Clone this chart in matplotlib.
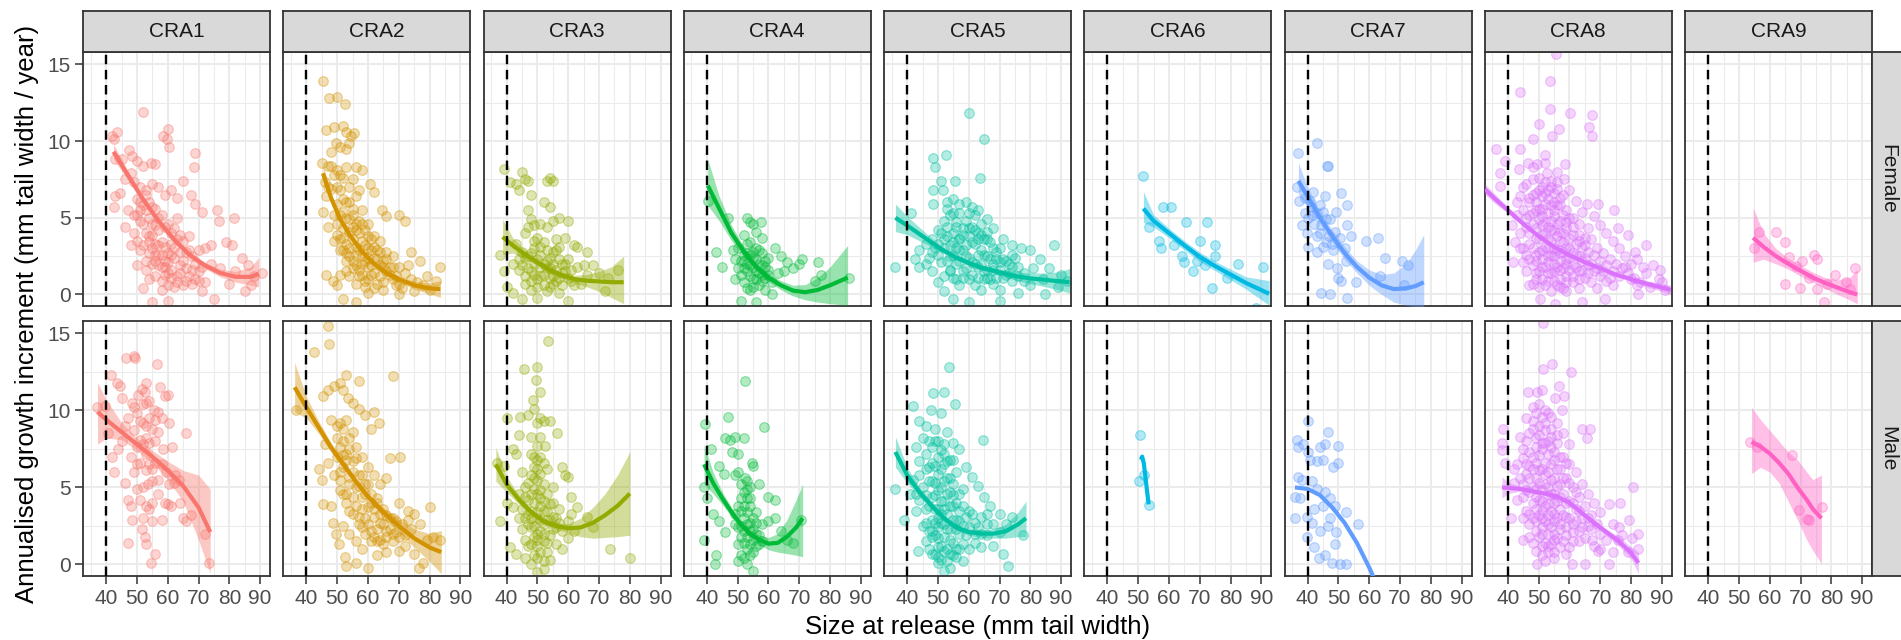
"""
growth increment by CRA and sex - faceted scatter with quadratic smooth
"""
import matplotlib
matplotlib.use("Agg")
import matplotlib.pyplot as plt
from matplotlib.ticker import MultipleLocator

plt.rcParams['font.family'] = ['Liberation Sans', 'DejaVu Sans']

areas = ['CRA1', 'CRA2', 'CRA3', 'CRA4', 'CRA5', 'CRA6', 'CRA7', 'CRA8', 'CRA9']
sexes = ['Female', 'Male']
area_colours = ['#F8766D', '#D39200', '#93AA00', '#00BA38', '#00C19F',
                '#00B9E3', '#619CFF', '#DB72FB', '#FF61C3']
x_ticks = [40, 50, 60, 70, 80, 90]
y_ticks = [0, 5, 10, 15]
size_limit = 40

cra1_female_pts = [
    (41.8, 10.3), (43.5, 10.6), (42.5, 10.1), (52, 11.9), (58.5, 10.3), (60, 10.8), (59.8, 10.1),
    (60.5, 9.6), (69, 9.2), (68.5, 8.3), (47.5, 9.4), (48.5, 9.0), (50, 8.7), (52, 8.4), (54.5, 8.6),
    (56, 8.5), (45, 8.8), (43, 8.8), (43, 6.4), (42.5, 5.7), (44.5, 6.6), (46, 7.5), (48, 7.9),
    (49, 7.3), (51, 7.0), (53, 6.8), (55, 7.2), (57, 7.0), (59, 6.5), (61, 6.8), (63, 6.3), (65, 7.4),
    (67.5, 6.5), (69, 5.9), (71, 5.4), (76, 5.5), (76.5, 4.8), (81.5, 5.0), (79, 3.4), (81, 3.2),
    (84, 2.4), (86, 1.9), (88, 1.2), (90.5, 1.4), (87, 0.6), (85, 0.2), (80, 0.7), (77, 1.7), (74, 2.0),
    (72, 0.8), (70, 1.5), (68, 2.5), (66, 0.9), (64, 1.9), (62, 0.5), (60, 1.4), (58, 0.3), (56, 2.2),
    (54, 1.0), (52, 0.4), (50, 1.9), (48, 3.2), (46, 4.4), (47, 5.5), (50, 5.2), (52, 4.6), (54, 3.8),
    (56, 4.5), (58, 3.4), (60, 2.7), (62, 3.0), (64, 3.9), (66, 2.8), (68, 1.6), (70, 2.9), (72, 3.0),
    (74, 3.2), (51, 2.9), (53, 2.2), (55, 3.0), (57, 2.6), (59, 1.8), (61, 1.1), (63, 1.2), (49, 4.0),
    (51, 6.0), (53, 5.5), (55, 5.7), (57, 5.0), (59, 4.4), (61, 4.0), (63, 5.0), (65, 3.5), (67, 3.8),
    (69, 1.0), (71, 0.2), (55, -0.5), (60, -0.4), (75, -0.3), (82, 1.5),
    (50, 3.5), (51, 4.8), (52, 3.2), (52, 5.8), (53, 4.0), (53, 1.6), (54, 2.7), (54, 5.0), (55, 3.9),
    (55, 2.0), (56, 5.6), (56, 1.2), (56, 3.3), (57, 4.2), (57, 1.9), (58, 2.6), (58, 5.2), (58, 0.9),
    (59, 3.1), (59, 1.3), (60, 4.6), (60, 2.1), (61, 3.3), (61, 1.6), (62, 2.4), (62, 4.3), (63, 0.8),
    (63, 3.6), (64, 1.4), (64, 2.8), (65, 2.2), (65, 0.6), (66, 1.7), (67, 1.2), (67, 2.9), (68, 0.7),
    (69, 2.0), (70, 0.9), (71, 1.8), (49, 5.2), (50, 6.2), (51, 5.5), (53, 6.5), (54, 6.0), (55, 4.6),
    (57, 3.2), (59, 2.2), (61, 2.6), (54, 3.4), (56, 2.6), (58, 1.8), (60, 0.6)]
cra1_male_pts = [
    (37, 10.2), (39.5, 10.3), (41.5, 12.3), (40.5, 8.5), (42, 7.0), (42.5, 6.0), (43.5, 11.8),
    (44.5, 11.6), (45, 10.8), (46.5, 13.4), (49, 13.5), (49.5, 13.4), (56.5, 13.0), (53, 11.8),
    (51.5, 11.4), (52.5, 11.2), (50.5, 11.0), (48.5, 10.5), (47, 9.5), (46, 9.0), (45, 8.0), (44, 7.5),
    (46, 5.3), (47, 4.2), (48, 3.8), (48.5, 2.9), (47, 1.4), (51.5, 2.3), (52.5, 1.8), (53, 1.3),
    (54.5, 0.1), (56, 0.7), (55, 2.8), (58, 2.9), (59, 4.0), (60, 3.9), (61, 3.8), (62, 5.3), (64, 4.0),
    (65, 3.0), (66, 2.8), (66, 8.5), (67.5, 3.2), (72, 2.0), (73.5, 0.1), (57.5, 11.5), (59, 10.9),
    (60, 11.0), (58, 9.5), (60.5, 9.2), (61.5, 7.6), (56, 8.0), (54, 9.5), (52, 9.2), (50, 9.8),
    (49, 8.7), (51, 8.1), (53, 7.2), (54, 6.5), (52, 5.0), (53.5, 5.2), (55, 4.0), (57, 5.5), (58, 6.5),
    (59.5, 6.0), (60.5, 5.2), (62.5, 5.8), (63.5, 5.5), (50, 6.5), (48, 7.0), (53, 10.5), (55.5, 10.0),
    (57, 8.6), (58.5, 7.5), (55, 6.2), (51, 4.2), (53, 3.8), (57, 4.6),
    (49, 10.2), (50, 7.6), (51, 9.3), (51, 6.6), (52, 10.4), (52, 7.8), (53, 9.0), (53, 6.1), (54, 10.6),
    (54, 7.9), (55, 8.8), (55, 5.4), (56, 9.4), (56, 6.6), (57, 9.9), (53, 8.2), (52, 3.0), (54, 3.6),
    (50, 4.9), (49, 6.0)]
cra2_female_pts = [
    (45.5, 13.9), (47.5, 12.8), (50, 12.9), (52.5, 12.4), (46.5, 10.7), (49, 10.9), (52, 11.0),
    (53, 10.6), (54.5, 10.3), (55.5, 10.5), (54, 9.9), (53, 9.5), (51, 9.6), (49.5, 9.9), (48, 9.3),
    (47, 8.4), (45, 8.6), (46, 7.3), (46.5, 6.4), (45.5, 5.4), (47, 4.4), (46.5, 1.3), (48.5, 0.9),
    (50, 0.6), (52, -0.3), (56, -0.5), (60, 0.1), (65, 0.3), (70, 0.0), (75, 0.2), (80, 0.3), (82, 0.9),
    (83.5, 1.8), (79, 1.2), (77, 2.2), (74, 2.8), (72, 4.8), (70, 5.2), (66, 5.1), (64.5, 5.5),
    (62, 6.7), (60.5, 7.2), (58, 8.1), (56, 8.3), (50, 8.1), (52, 7.6), (54, 7.0), (56, 6.4), (58, 5.5),
    (60, 4.6), (62, 3.8), (64, 3.5), (66, 2.8), (68, 2.5), (70, 1.8), (72, 1.4), (74, 1.0), (76, 0.8),
    (48, 6.9), (50, 5.9), (52, 5.4), (54, 4.9), (56, 4.2), (58, 3.5), (60, 3.0), (62, 2.4), (64, 1.9),
    (66, 1.5), (68, 1.0), (49, 3.5), (51, 2.9), (53, 2.2), (55, 1.7), (57, 1.2), (59, 0.9), (61, 1.3),
    (63, 0.7), (50, 4.6), (52, 3.7), (54, 3.0), (56, 2.6), (58, 2.0), (60, 1.8), (51, 6.8), (53, 6.0),
    (55, 5.6), (57, 4.8), (59, 4.2), (61, 3.6), (63, 2.9), (65, 2.2), (67, 1.8), (69, 0.6), (71, 0.4),
    (73, 1.9), (78, 0.6),
    (50, 7.0), (51, 5.2), (51, 3.6), (52, 6.2), (52, 4.3), (52, 2.9), (53, 5.0), (53, 3.3), (53, 1.5),
    (54, 6.0), (54, 4.1), (54, 2.5), (54, 1.2), (55, 5.2), (55, 3.6), (55, 2.2), (56, 4.6), (56, 3.1),
    (56, 1.9), (56, 0.7), (57, 4.0), (57, 2.9), (57, 1.6), (58, 4.6), (58, 2.5), (58, 1.3), (59, 3.2),
    (59, 2.2), (59, 0.5), (60, 3.8), (60, 2.4), (60, 1.0), (61, 2.9), (61, 1.9), (62, 3.1), (62, 1.4),
    (62, 0.4), (63, 2.3), (64, 2.8), (64, 1.2), (65, 1.8), (65, 0.8), (66, 2.3), (67, 1.3), (68, 1.8),
    (69, 1.2), (70, 0.7), (49, 5.2), (50, 3.9), (51, 7.8), (53, 8.3), (55, 7.5), (57, 6.8), (49, 7.8),
    (48, 8.4), (47, 7.0), (55, 4.4), (53, 2.7), (51, 1.3)]
cra2_male_pts = [
    (36.5, 10.0), (42.5, 13.8), (47, 15.5), (47.5, 14.3), (53, 12.3), (57, 11.9), (68, 12.2),
    (45.5, 10.9), (47, 11.3), (49, 11.6), (51, 11.8), (52, 11.3), (53.5, 10.8), (55, 10.5), (57, 10.1),
    (59, 9.7), (61, 8.8), (62, 9.9), (63.5, 9.2), (46, 7.8), (47, 6.6), (44, 6.2), (45, 5.5), (45.5, 3.9),
    (48, 3.8), (48.5, 2.7), (49.5, 2.0), (50.5, 1.3), (52.5, 0.5), (53, -0.1), (56, 0.1), (60, -0.2),
    (63, 0.6), (66, 0.8), (70, 0.9), (72, 1.2), (75, 0.7), (76.5, -0.2), (78, 0.1), (81, 1.8),
    (83.5, 1.6), (80, 3.7), (75, 3.3), (73, 3.5), (70, 4.0), (70.5, 7.0), (67, 6.9), (66, 5.6), (64, 5.2),
    (62, 5.8), (60, 6.3), (58, 7.0), (56, 7.6), (54, 8.2), (52, 8.8), (50, 9.0), (48, 9.4), (50, 7.0),
    (52, 6.3), (54, 5.7), (56, 5.0), (58, 4.4), (60, 3.7), (62, 3.1), (64, 2.7), (66, 2.2), (68, 2.0),
    (70, 1.8), (51, 4.8), (53, 4.0), (55, 3.3), (57, 2.6), (59, 2.0), (61, 1.5), (63, 1.5), (65, 1.3),
    (49, 5.8), (51, 7.6), (53, 7.2), (55, 6.7), (57, 5.8), (59, 5.2), (61, 4.6), (63, 4.0), (65, 3.6),
    (67, 3.0), (69, 2.8), (52, 2.5), (54, 2.0), (56, 1.5), (58, 1.0), (74, 2.3), (77, 2.6), (79, 1.6),
    (50, 8.2), (51, 9.2), (51, 6.0), (52, 8.0), (52, 4.6), (53, 9.4), (53, 6.8), (53, 4.6), (54, 7.5),
    (54, 5.2), (54, 3.5), (55, 8.6), (55, 6.0), (55, 4.4), (56, 6.9), (56, 3.8), (57, 5.1), (57, 3.1),
    (58, 5.8), (58, 3.6), (58, 2.4), (59, 4.6), (59, 3.0), (60, 5.2), (60, 2.6), (61, 4.0), (61, 2.2),
    (62, 3.6), (62, 1.8), (63, 4.3), (63, 2.3), (64, 3.3), (64, 1.6), (65, 2.6), (66, 3.2), (66, 1.8),
    (67, 2.3), (68, 3.0), (68, 1.5), (69, 2.1), (71, 2.6), (72, 1.9), (73, 2.9), (52, 7.1), (51, 5.5)]
cra3_female_pts = [
    (39, 8.2), (41, 7.3), (45, 8.0), (46, 7.5), (43, 7.2), (44, 6.8), (47, 7.4), (48, 6.5), (53, 7.4),
    (54, 7.6), (55, 7.4), (47, 5.5), (48, 4.9), (49, 4.5), (51, 4.6), (52, 6.0), (54, 5.7), (55, 4.8),
    (57, 5.0), (60, 4.8), (59, 3.7), (62, 3.2), (63, 3.1), (66, 2.8), (68, 1.9), (73, 1.1), (76, 1.6),
    (72, 0.2), (38, 2.6), (39, 1.5), (40, 0.5), (42, 0.1), (45, -0.3), (48, 0.3), (50, -0.2), (54, 0.5),
    (57, 0.1), (60, -0.4), (64, 0.7), (66, 1.3), (43, 3.3), (45, 2.8), (47, 2.5), (49, 3.0), (51, 2.6),
    (53, 2.2), (55, 2.8), (57, 2.3), (59, 2.0), (61, 1.6), (63, 1.8), (44, 1.6), (46, 1.2), (48, 1.5),
    (50, 1.0), (52, 1.3), (54, 1.7), (56, 0.9), (58, 1.4), (60, 1.1), (62, 0.6), (50, 3.7), (52, 3.4),
    (56, 3.6), (46, 4.0), (53, 0.2), (49, 2.0), (51, 1.8), (55, 1.2), (57, 3.1), (65, 1.9), (70, 1.4),
    (45, 1.9), (46, 2.4), (46, 0.7), (47, 1.7), (48, 2.7), (48, 0.9), (49, 1.3), (49, 3.5), (50, 2.3),
    (50, 0.5), (51, 1.2), (51, 3.1), (52, 2.0), (52, 0.6), (53, 1.7), (53, 2.9), (54, 1.1), (54, 2.4),
    (55, 0.7), (55, 2.0), (56, 1.6), (56, 2.9), (57, 1.1), (58, 2.0), (58, 0.6), (59, 1.5), (60, 2.3),
    (61, 0.9), (47, 4.4), (53, 4.4), (44, 2.3), (42, 2.0)]
cra3_male_pts = [
    (53.5, 14.5), (45.5, 12.7), (50, 12.8), (49.5, 12.0), (51, 11.2), (48.5, 10.7), (49, 10.1),
    (40, 9.5), (44.5, 9.6), (47, 9.7), (51, 9.5), (52, 9.3), (54, 9.3), (56.5, 8.5), (52.5, 7.7),
    (50, 7.7), (48, 8.3), (44, 8.4), (43, 7.2), (37, 6.6), (39, 6.4), (42, 7.5), (58, 6.3), (59, 5.8),
    (60, 5.7), (61, 4.4), (63, 3.7), (66, 3.1), (68, 2.4), (73.5, 1.0), (80, 0.4), (38, 2.8), (40, 4.0),
    (41, 1.1), (43, 0.7), (46, 0.4), (48, 0.0), (50, -0.5), (52, -0.3), (54, 0.3), (56, 1.3), (58, 1.0),
    (60, 1.7), (62, 2.2), (45, 6.0), (46, 5.0), (47, 4.2), (48, 3.5), (49, 6.3), (50, 5.5), (51, 4.8),
    (52, 4.1), (53, 3.5), (54, 2.9), (55, 4.0), (48, 2.4), (49, 1.8), (50, 1.2), (51, 2.2), (52, 1.5),
    (53, 0.8), (44, 3.0), (45, 2.3), (46, 1.6), (47, 3.3), (50, 3.0), (51, 3.8), (52, 2.6), (53, 6.2),
    (55, 5.0), (57, 3.6), (56, 2.4), (44, 4.6), (42, 3.7), (50, 6.8), (51, 7.0), (49, 4.9), (48, 4.6),
    (50, 2.0), (49, 0.6), (47, 1.2),
    (47, 2.6), (47, 5.3), (48, 1.3), (48, 3.0), (48, 5.8), (48, 7.2), (49, 2.5), (49, 4.0), (49, 5.6),
    (49, 7.0), (50, 0.4), (50, 1.6), (50, 3.4), (50, 4.6), (50, 6.2), (51, 0.8), (51, 2.9), (51, 4.3),
    (51, 5.9), (52, 0.2), (52, 2.0), (52, 3.5), (52, 5.2), (52, 6.6), (53, 1.4), (53, 2.9), (53, 4.6),
    (54, 1.9), (54, 3.9), (55, 2.3), (55, 3.1), (46, 3.0), (46, 4.4), (45, 3.6), (56, 3.0), (57, 2.7),
    (58, 2.2), (60, 2.8), (61, 3.3), (51, 8.3), (50, 9.2)]
cra4_female_pts = [
    (40.3, 6.1), (48.5, 2.9), (47, 5.0), (53, 5.0), (54, 4.7), (55, 4.6), (57.5, 4.7), (56, 4.1),
    (58, 3.7), (52, 3.9), (50, 3.0), (49, 2.3), (51, 2.2), (53, 2.7), (55, 2.4), (57, 2.0), (59, 1.8),
    (53, 1.5), (55, 1.0), (57, 0.6), (59, 0.3), (54, 0.3), (52, 0.8), (61, 0.0), (56, -0.5), (51, -0.4),
    (63, 1.4), (65, 1.5), (66, 2.1), (68, 1.7), (70, 2.0), (71, 2.3), (76, 2.1), (77, 1.3), (86, 1.1),
    (75, 0.9), (62, 3.0), (64, 2.5), (60, 2.4), (45, 1.8), (43, 2.8), (58, 1.3), (54, 3.4), (56, 3.0),
    (52, 2.2), (54, 1.9), (56, 1.5), (58, 2.7), (60, 1.3), (53, 0.4), (55, 2.8),
    (51, 1.3), (52, 2.6), (52, 1.7), (53, 2.0), (53, 3.3), (54, 1.2), (54, 2.6), (55, 1.8), (55, 0.5),
    (56, 2.3), (56, 1.0), (57, 1.4), (57, 2.9), (58, 0.9), (58, 1.9), (59, 2.2), (59, 1.1), (60, 1.6),
    (61, 0.8), (50, 1.7), (49, 1.0)]
cra4_male_pts = [
    (52.5, 11.9), (39.5, 9.1), (47, 9.6), (41.5, 7.5), (46, 8.2), (47.5, 8.1), (49, 8.3), (48, 7.3),
    (50, 7.2), (52, 8.2), (58.5, 8.9), (54.5, 6.6), (55, 6.4), (50, 6.0), (49, 5.8), (51, 5.2),
    (52.5, 5.6), (57, 5.2), (60, 4.4), (62, 4.2), (44, 6.4), (45.5, 5.9), (39, 5.0), (40, 4.3), (42, 3.3),
    (44, 2.8), (46, 2.1), (39, 1.6), (43, 0.6), (50, 0.2), (53, 0.0), (55, -0.4), (57, 1.3), (60, 2.8),
    (62, 3.0), (64, 2.2), (66, 1.6), (70.5, 2.9), (68, 1.4), (52, 4.7), (53, 4.3), (54, 3.8), (51, 3.5),
    (52, 3.0), (53, 2.6), (54, 2.2), (51, 1.8), (52, 1.4), (53, 1.0), (54, 0.6), (55, 1.6), (55, 3.0),
    (56, 2.0), (50, 2.4), (49, 3.3), (53, 4.9), (54, 5.0), (56, 3.4), (58, 2.6), (42.5, 0.0),
    (50, 1.3), (50, 3.8), (51, 2.5), (51, 4.3), (51, 0.6), (52, 2.2), (52, 3.8), (52, 0.4), (53, 1.8),
    (53, 3.4), (53, 5.4), (54, 1.3), (54, 2.7), (54, 4.3), (55, 2.3), (55, 0.8), (56, 1.2), (56, 2.7),
    (57, 1.9), (58, 1.5), (49, 2.6)]
cra5_female_pts = [
    (60, 11.8), (65, 10.1), (52.6, 9.1), (48.3, 8.9), (49, 8.3), (63.8, 7.6), (55.7, 7.4), (51, 7.4),
    (48.3, 6.8), (51.6, 6.8), (48.3, 5.9), (87.6, 3.2), (36.2, 1.8), (41.3, 5.3), (84.8, 0.0), (53, 6.0),
    (55, 6.2), (57, 5.9), (59, 6.0), (61, 5.7), (63, 5.5), (66, 4.9), (68, 4.3), (71, 3.6), (74, 3.2),
    (77, 3.0), (80, 2.9), (83, 2.3), (86, 1.7), (90, 1.3), (92, 0.9), (89, 0.5), (80, 0.6), (76, 0.1),
    (70, -0.4), (60, -0.5), (55, -0.3), (52, 0.2), (50, 0.8), (48, 1.5), (46, 2.0), (44, 1.8),
    (42.5, 2.3), (44, 2.9), (46, 3.3), (48, 3.6), (50, 4.2), (52, 4.8), (54, 5.2), (56, 4.7), (58, 4.3),
    (60, 3.8), (62, 3.3), (64, 2.9), (66, 2.5), (68, 2.0), (70, 1.6), (72, 1.3), (74, 0.9), (76, 1.8),
    (78, 1.4), (81, 1.7), (84, 1.0), (52, 3.0), (54, 2.5), (56, 2.0), (58, 1.5), (60, 1.0), (62, 0.6),
    (64, 0.3), (66, 1.1), (68, 0.7), (53, 3.8), (55, 3.4), (57, 2.9), (59, 2.5), (61, 2.1), (63, 1.8),
    (65, 1.5), (67, 3.4), (69, 2.8), (71, 2.3), (73, 2.0), (55, 1.1), (57, 0.6), (59, 4.8), (61, 4.4),
    (63, 4.0), (65, 3.6), (57, 3.7), (54, 1.5), (50, 2.6), (48, 2.8), (70, 0.3), (74, 2.6),
    (50, 3.3), (51, 2.1), (51, 4.0), (52, 1.2), (52, 3.6), (53, 2.2), (53, 4.4), (54, 1.6), (54, 3.2),
    (55, 2.6), (55, 4.0), (56, 1.0), (56, 3.0), (56, 4.4), (57, 2.2), (57, 3.6), (58, 1.1), (58, 2.9),
    (58, 3.9), (59, 1.7), (59, 3.2), (60, 2.4), (60, 4.3), (61, 1.3), (61, 3.4), (62, 2.0), (62, 4.2),
    (63, 1.1), (63, 2.6), (63, 3.6), (64, 1.9), (64, 3.9), (65, 1.0), (65, 2.6), (66, 1.6), (66, 3.6),
    (67, 2.3), (67, 1.0), (68, 1.6), (68, 3.0), (69, 2.3), (69, 1.1), (70, 2.1), (70, 3.0), (71, 1.1),
    (72, 2.2), (73, 1.4), (74, 1.8), (75, 2.4), (76, 1.2), (78, 0.9), (62, 5.2), (60, 5.3), (57, 5.3),
    (55, 5.3), (53, 5.6), (64, 4.6), (66, 4.1), (49, 3.0), (47, 2.4)]
cra5_male_pts = [
    (53.7, 12.8), (48.3, 11.1), (52.1, 11.2), (55.4, 10.4), (41.8, 10.3), (47.8, 10.0), (51, 9.8),
    (64.5, 8.1), (36.2, 4.9), (39.1, 2.9), (43.5, 0.9), (72.6, -0.1), (77.5, 1.9), (71, 0.7), (44, 9.3),
    (46, 9.0), (49, 8.8), (53, 8.6), (55, 7.9), (57, 7.5), (45, 8.2), (43, 7.6), (44, 6.7), (42, 5.5),
    (41, 4.6), (43, 3.5), (45, 2.5), (46, 1.5), (48, 0.7), (50, 0.1), (52, -0.4), (54, -0.2), (56, 0.5),
    (58, 0.2), (60, 1.0), (62, 1.4), (64, 1.1), (66, 1.9), (68, 1.2), (70, 3.3), (72, 2.6), (74, 3.1),
    (67, 3.8), (65, 4.4), (63, 5.1), (61, 5.7), (59, 6.3), (58, 4.9), (60, 3.5), (62, 2.7), (64, 3.1),
    (66, 2.6), (46, 7.2), (47, 6.3), (48, 5.4), (49, 4.5), (50, 3.6), (51, 2.7), (52, 1.8), (53, 1.0),
    (47, 3.8), (48, 2.9), (49, 1.9), (50, 1.1), (51, 7.4), (52, 6.5), (53, 5.6), (54, 4.7), (55, 3.8),
    (56, 2.9), (57, 2.0), (58, 1.3), (50, 8.0), (52, 7.8), (54, 6.8), (56, 6.0), (55, 5.2), (53, 3.3),
    (51, 5.0), (49, 6.4), (50, 5.9), (54, 2.3), (55, 1.4), (57, 3.5), (45, 5.0), (44, 4.2), (46, 3.6),
    (48, 2.2), (50, 2.4), (52, 4.1),
    (46, 6.2), (46, 4.5), (46, 2.7), (47, 8.0), (47, 5.4), (47, 2.2), (47, 1.0), (48, 7.6), (48, 6.6),
    (48, 4.4), (48, 1.8), (49, 8.0), (49, 5.3), (49, 3.6), (49, 2.7), (49, 0.7), (50, 7.0), (50, 4.8),
    (50, 3.0), (50, 1.7), (50, 0.5), (51, 6.2), (51, 4.1), (51, 3.3), (51, 1.2), (51, 0.3), (52, 7.2),
    (52, 5.4), (52, 3.6), (52, 2.6), (52, 0.9), (53, 6.7), (53, 4.6), (53, 2.3), (53, 0.2), (54, 5.6),
    (54, 3.8), (54, 1.6), (54, 0.7), (55, 6.8), (55, 4.5), (55, 2.9), (55, 0.6), (56, 4.0), (56, 2.3),
    (56, 1.0), (57, 4.6), (57, 2.8), (57, 1.0), (58, 3.8), (58, 2.5), (59, 3.1), (59, 1.9), (60, 2.4),
    (61, 3.3), (62, 2.0), (63, 2.4), (64, 2.0), (66, 3.3), (68, 2.6), (70, 2.1), (44, 5.8), (43, 4.6)]
cra6_female_pts = [
    (51.7, 7.7), (57.9, 5.7), (60.6, 5.7), (65.4, 4.7), (72.3, 4.7), (56.8, 3.5), (57.4, 3.0),
    (61.6, 3.2), (64.3, 2.5), (64.8, 2.1), (67.9, 1.5), (70.2, 3.5), (74.8, 3.2), (75, 2.5), (74, 0.4),
    (82.5, 2.0), (90.5, 1.8), (88.4, -0.9), (78.8, 1.1), (71.8, 1.9), (69.1, 2.2), (53.6, 4.4)]
cra6_male_pts = [(50.7, 8.4), (50.4, 5.4), (53.6, 3.85), (52.0, 5.8)]
cra7_female_pts = [
    (37, 9.2), (42.9, 9.9), (46.3, 8.4), (46.6, 8.4), (36.5, 7.0), (37.3, 6.1), (38.1, 4.5), (40, 3.1),
    (42.9, 2.8), (44.5, 4.5), (50.9, 6.6), (52.7, 5.8), (52.7, 4.5), (54.1, 3.8), (58.9, 3.5),
    (62.7, 3.7), (65.2, 2.4), (70.7, 2.2), (72.7, 1.9), (63.6, 1.2), (71.3, 0.6), (44.5, 0.1),
    (47.2, 0.0), (52.9, -0.2), (50, 1.1), (49.5, 1.7), (46.6, 2.0), (55.7, 0.8), (40.7, 6.1),
    (41.9, 6.7), (41.3, 5.2), (44, 5.8), (45, 5.4), (47.2, 4.9), (48.8, 4.1), (50.4, 3.7), (52, 3.0),
    (46.1, 3.4), (42.9, 3.8), (45.6, 6.4), (49.3, 5.4), (39.1, 5.3), (39.7, 4.0), (48.2, 2.9),
    (52.5, 2.2), (50.9, 0.9),
    (41, 5.7), (42, 4.6), (43, 5.3), (44, 4.0), (45, 3.1), (46, 4.9), (47, 3.8), (48, 3.3), (39, 6.3),
    (40, 5.0)]
cra7_male_pts = [
    (40, 9.3), (46.6, 8.6), (36.5, 8.1), (37, 7.6), (38.6, 7.8), (44, 7.6), (45.6, 7.8), (49.9, 7.7),
    (40.2, 7.3), (40.7, 6.8), (42.9, 6.7), (45, 6.8), (49.9, 6.6), (48.2, 6.3), (37, 5.7), (38.1, 5.5),
    (35.9, 4.4), (37.5, 4.3), (41.3, 5.4), (42.9, 4.9), (45.6, 4.7), (47.2, 4.3), (48.8, 3.8), (45, 3.8),
    (42.1, 3.6), (39.7, 3.1), (35.9, 3.0), (41.3, 2.7), (44, 2.2), (46.6, 2.5), (52.5, 3.4), (56.2, 2.6),
    (39.7, 1.8), (48.8, 1.3), (43.7, 0.4), (45.6, 0.6), (47.8, 0.1), (50.4, 0.0), (52.5, 0.0),
    (42.1, 1.1), (49.3, 2.1), (47.2, 3.0)]
cra8_female_pts = [
    (55.7, 15.7), (53.7, 13.9), (44, 13.2), (53.7, 12.1), (60.2, 11.8), (67.3, 11.7), (50, 11.1),
    (56.5, 10.8), (54.3, 10.3), (66.4, 10.9), (67.3, 10.3), (48.3, 10.1), (36.1, 9.5), (44, 9.5),
    (52.1, 9.1), (39.1, 8.7), (37.3, 7.9), (37.5, 7.1), (69.4, 5.9), (65.6, 5.9), (74.6, 5.5),
    (75.6, 4.35), (78.9, 3.9), (81.3, 2.8), (84.9, 3.2), (89.5, 1.6), (88.9, 1.0), (82.4, 0.0),
    (71.6, -0.3), (64, -0.5), (55.4, -0.6), (50.5, -0.3), (41.8, 2.1), (42.4, 3.4), (41.3, 4.5), (43, 6.0),
    (43.5, 8.2), (46.7, 8.6), (49.4, 8.5), (52.7, 7.9), (58.6, 8.5), (58.3, 7.5),
    (46, 7.2), (48, 7.5), (50, 7.6), (52, 7.3), (54, 7.0), (56, 6.9), (58, 6.5), (47, 6.3), (49, 6.6),
    (51, 6.4), (53, 6.2), (55, 6.0), (57, 5.8), (59, 5.5), (61, 5.0), (63, 4.6), (45, 5.5), (47, 5.2),
    (49, 5.5), (51, 5.6), (53, 5.3), (55, 5.1), (57, 4.8), (59, 4.3), (61, 3.9), (63, 3.5), (65, 3.2),
    (67, 3.6), (69, 3.0), (71, 2.7), (73, 2.3), (75, 2.0), (77, 1.7), (79, 1.4), (81, 1.1), (83, 0.8),
    (85, 1.4), (87, 1.9), (44, 4.0), (46, 4.4), (48, 4.6), (50, 4.9), (52, 4.7), (54, 4.2), (56, 3.8),
    (58, 3.4), (60, 3.0), (62, 2.6), (64, 2.2), (66, 1.9), (68, 1.5), (70, 1.2), (72, 0.9), (74, 0.6),
    (45, 3.0), (47, 3.3), (49, 3.7), (51, 3.9), (53, 3.6), (55, 3.0), (57, 2.7), (59, 2.3), (61, 1.9),
    (63, 1.5), (65, 1.1), (67, 0.8), (69, 0.4), (47, 2.3), (49, 2.6), (51, 2.9), (53, 2.5), (55, 2.0),
    (57, 1.6), (59, 1.2), (61, 0.8), (63, 0.4), (49, 1.4), (51, 1.8), (53, 1.4), (55, 0.9), (57, 0.5),
    (59, 0.2), (52, 0.6), (54, 0.2), (48, 0.7), (76, 3.0), (78, 2.5), (80, 2.0), (72, 4.0), (70, 4.5),
    (68, 5.1), (66, 4.3), (64, 5.4), (62, 6.1), (60, 6.8), (56, 8.0), (52, 8.6), (48, 8.3), (45, 7.0),
    (44, 6.4), (43, 5.2), (74, 3.5), (82, 2.3), (86, 0.5), (90, 0.8), (91, 0.3),
    (46, 1.5), (46, 2.6), (46, 5.0), (47, 4.0), (47, 6.0), (48, 1.9), (48, 3.0), (48, 5.3), (48, 6.5),
    (49, 1.0), (49, 2.2), (49, 4.3), (49, 6.0), (50, 0.5), (50, 1.5), (50, 2.8), (50, 3.6), (50, 5.6),
    (50, 6.8), (51, 1.0), (51, 2.3), (51, 4.5), (51, 5.1), (51, 7.0), (52, 1.8), (52, 3.1), (52, 4.0),
    (52, 5.9), (52, 6.6), (53, 0.9), (53, 2.1), (53, 3.0), (53, 4.4), (53, 6.8), (54, 1.4), (54, 2.6),
    (54, 3.5), (54, 4.8), (54, 5.8), (54, 7.4), (55, 1.5), (55, 2.5), (55, 4.2), (55, 5.5), (55, 6.6),
    (56, 0.6), (56, 1.8), (56, 2.9), (56, 4.6), (56, 5.8), (56, 7.3), (57, 1.0), (57, 2.2), (57, 3.5),
    (57, 4.1), (57, 6.3), (58, 1.7), (58, 2.8), (58, 4.0), (58, 5.2), (59, 0.8), (59, 2.0), (59, 3.0),
    (59, 4.7), (60, 1.6), (60, 2.4), (60, 3.7), (60, 5.0), (61, 1.2), (61, 2.7), (61, 4.4), (62, 1.8),
    (62, 3.3), (63, 1.0), (63, 2.5), (63, 3.9), (64, 1.6), (64, 3.1), (65, 2.4), (65, 3.7), (66, 1.4),
    (66, 2.8), (67, 2.0), (68, 2.6), (69, 1.7), (70, 2.2), (71, 1.5), (72, 1.9), (73, 1.1), (74, 1.5),
    (76, 1.2), (78, 1.8), (80, 1.0), (82, 0.6), (84, 1.8), (47, 0.6), (45, 2.1), (44, 3.0), (58, 0.4)]
cra8_male_pts = [
    (51.4, 15.7), (54.3, 13.0), (51.4, 12.7), (60.5, 12.5), (56.5, 11.6), (46.7, 11.2), (49.4, 11.2),
    (51, 11.3), (55.4, 10.8), (58.1, 10.9), (57.6, 10.0), (38.3, 8.8), (64, 8.8), (66.7, 8.8),
    (65.6, 8.2), (38.1, 7.9), (38.1, 7.4), (39, 6.6), (80.6, 5.0), (76.5, 4.0), (72.7, 3.9), (79.3, 2.9),
    (82.4, 2.0), (82.4, 1.0), (80.3, 1.7), (75.9, 1.6), (72.7, 0.0), (60.8, 0.0), (65.1, 0.0),
    (49.4, 0.0), (44.8, 1.6), (67.3, 1.6), (69.4, 0.9),
    (46, 9.5), (48, 10.2), (50, 10.4), (52, 10.0), (54, 9.6), (56, 9.2), (58, 8.5), (60, 7.8), (44, 8.3),
    (46, 8.0), (48, 8.8), (50, 9.0), (52, 8.7), (54, 8.3), (56, 7.9), (58, 7.0), (60, 6.5), (62, 6.0),
    (64, 5.2), (66, 4.6), (68, 4.0), (70, 3.4), (43, 6.5), (45, 6.9), (47, 7.3), (49, 7.6), (51, 7.5),
    (53, 7.2), (55, 6.8), (57, 6.2), (59, 5.6), (61, 5.0), (63, 4.4), (65, 3.8), (67, 3.2), (69, 2.6),
    (42, 5.3), (44, 5.6), (46, 5.9), (48, 6.2), (50, 6.1), (52, 5.9), (54, 5.5), (56, 5.1), (58, 4.6),
    (60, 4.1), (62, 3.6), (64, 3.0), (66, 2.5), (43, 4.2), (45, 4.4), (47, 4.7), (49, 4.9), (51, 4.8),
    (53, 4.5), (55, 4.0), (57, 3.6), (59, 3.1), (61, 2.6), (63, 2.2), (45, 3.0), (47, 3.3), (49, 3.6),
    (51, 3.5), (53, 3.2), (55, 2.8), (57, 2.3), (59, 1.9), (61, 1.5), (47, 1.8), (49, 2.2), (51, 2.4),
    (53, 2.0), (55, 1.6), (57, 1.1), (59, 0.7), (49, 0.9), (51, 1.2), (53, 0.8), (55, 0.4), (52, 0.2),
    (42, 6.2), (41, 3.0), (70, 2.0), (74, 2.6), (77, 1.9), (79, 0.8),
    (45, 5.2), (45, 7.5), (46, 3.5), (46, 4.8), (46, 6.5), (47, 2.6), (47, 5.6), (47, 6.4), (47, 8.5),
    (48, 1.4), (48, 3.0), (48, 4.0), (48, 5.0), (48, 7.0), (48, 9.3), (49, 2.8), (49, 4.4), (49, 5.6),
    (49, 6.6), (49, 8.2), (49, 9.8), (50, 1.8), (50, 3.2), (50, 4.2), (50, 5.3), (50, 7.1), (50, 8.4),
    (51, 0.6), (51, 2.0), (51, 3.0), (51, 4.1), (51, 6.2), (51, 7.9), (51, 9.6), (52, 1.4), (52, 2.8),
    (52, 3.8), (52, 5.2), (52, 6.6), (52, 7.9), (52, 9.2), (53, 1.2), (53, 2.6), (53, 3.9), (53, 5.0),
    (53, 6.0), (53, 8.0), (53, 9.8), (54, 1.3), (54, 2.4), (54, 3.5), (54, 4.6), (54, 6.5), (54, 7.6),
    (54, 8.8), (55, 0.8), (55, 2.0), (55, 3.3), (55, 4.6), (55, 5.6), (55, 7.3), (56, 1.7), (56, 3.0),
    (56, 4.1), (56, 6.2), (56, 8.4), (57, 2.6), (57, 4.4), (57, 5.2), (57, 7.0), (58, 1.5), (58, 3.2),
    (58, 5.6), (59, 2.4), (59, 4.0), (59, 6.6), (60, 1.1), (60, 3.0), (60, 5.3), (61, 2.1), (61, 4.0),
    (62, 2.8), (62, 4.7), (63, 1.5), (63, 3.5), (64, 2.4), (65, 1.7), (66, 3.0), (67, 2.3), (68, 1.2),
    (70, 1.0), (72, 1.6), (74, 0.8), (76, 2.4)]
cra9_female_pts = [
    (56.5, 4.1), (61.9, 4.1), (65.1, 3.4), (54.8, 3.05), (66.2, 2.45), (74.3, 2.6), (75.4, 2.3),
    (70.5, 2.2), (65.1, 0.7), (69.9, 0.45), (81.3, 1.25), (84.6, 0.8), (87.8, 1.75), (78.6, 0.7),
    (75.4, 0.35), (72.7, 1.1), (68.4, 1.85), (86.2, 0.35), (77.6, -0.5)]
cra9_male_pts = [(53.7, 7.95), (55.9, 7.6), (67.3, 7.1), (69.4, 3.55), (72.1, 2.95), (72.9, 2.9),
                 (77.0, 3.75)]

# ---- fitted smooth: (size, fit, lower, upper) ----
cra1_female_fit = [(42.4, 9.3, 8.8, 9.8), (47, 7.8, 7.5, 8.1), (52, 6.2, 6.0, 6.4), (57, 4.8, 4.6, 5.0),
                   (62, 3.6, 3.4, 3.8), (67, 2.6, 2.4, 2.8), (72, 1.9, 1.7, 2.1), (77, 1.4, 1.15, 1.65),
                   (82, 1.15, 0.8, 1.5), (87, 1.15, 0.6, 1.8), (89.5, 1.35, 0.5, 2.4)]
cra1_male_fit = [(37.2, 9.9, 7.8, 11.8), (40, 9.4, 8.2, 10.7), (45, 8.6, 8.1, 9.2), (50, 7.8, 7.4, 8.2),
                 (55, 7.0, 6.6, 7.4), (60, 6.1, 5.5, 6.7), (65, 5.1, 4.1, 6.1), (70, 3.7, 1.6, 5.8),
                 (73.8, 2.1, -0.6, 4.9)]
cra2_female_fit = [(45.4, 7.9, 7.4, 8.4), (48, 6.3, 6.0, 6.6), (51, 4.9, 4.7, 5.1), (54, 3.9, 3.7, 4.1),
                   (58, 2.8, 2.6, 3.0), (62, 2.0, 1.8, 2.2), (66, 1.4, 1.2, 1.6), (70, 1.0, 0.8, 1.2),
                   (75, 0.6, 0.35, 0.85), (80, 0.4, 0.05, 0.75), (83.5, 0.35, -0.2, 0.9)]
cra2_male_fit = [(36.2, 11.5, 9.9, 13.1), (40, 10.2, 9.5, 10.9), (44, 8.9, 8.5, 9.3), (48, 7.6, 7.3, 7.9),
                 (52, 6.5, 6.2, 6.8), (56, 5.4, 5.2, 5.6), (60, 4.4, 4.2, 4.6), (65, 3.4, 3.1, 3.7),
                 (70, 2.5, 2.1, 2.9), (75, 1.7, 1.1, 2.3), (80, 1.1, 0.2, 2.0), (83.8, 0.8, -0.6, 2.2)]
cra3_female_fit = [(38.7, 3.75, 2.6, 4.9), (42, 3.2, 2.7, 3.7), (46, 2.6, 2.3, 2.9), (50, 2.1, 1.9, 2.3),
                   (54, 1.6, 1.4, 1.8), (58, 1.25, 1.05, 1.45), (62, 1.0, 0.75, 1.25), (66, 0.9, 0.5, 1.3),
                   (70, 0.85, 0.2, 1.5), (74, 0.8, -0.2, 1.8), (78, 0.8, -0.6, 2.5)]
cra3_male_fit = [(36.5, 6.5, 5.4, 7.6), (40, 5.2, 4.7, 5.7), (44, 4.2, 3.9, 4.5), (48, 3.4, 3.2, 3.6),
                 (52, 2.8, 2.6, 3.0), (56, 2.5, 2.3, 2.7), (60, 2.35, 2.05, 2.65), (64, 2.4, 1.8, 3.0),
                 (68, 2.7, 1.7, 3.7), (72, 3.2, 1.75, 4.6), (76, 3.8, 1.8, 5.8), (80, 4.6, 1.9, 7.3)]
cra4_female_fit = [(40.3, 7.1, 5.8, 8.8), (44, 5.6, 4.8, 6.4), (48, 4.0, 3.5, 4.5), (52, 2.8, 2.5, 3.1),
                   (56, 1.8, 1.55, 2.05), (60, 1.1, 0.85, 1.35), (64, 0.6, 0.3, 0.9), (68, 0.25, -0.1, 0.6),
                   (72, 0.15, -0.35, 0.65), (76, 0.3, -0.5, 1.1), (80, 0.6, -0.6, 1.8),
                   (85.7, 1.1, -0.7, 3.2)]
cra4_male_fit = [(39.1, 6.5, 5.2, 7.8), (42, 5.3, 4.6, 6.0), (45, 4.3, 3.9, 4.7), (48, 3.4, 3.1, 3.7),
                 (51, 2.6, 2.35, 2.85), (54, 2.0, 1.75, 2.25), (57, 1.6, 1.3, 1.9), (60, 1.35, 0.95, 1.75),
                 (63, 1.4, 0.8, 2.0), (66, 1.8, 0.7, 2.9), (69, 2.4, 0.6, 4.2), (71.1, 3.0, 0.5, 5.2)]
cra5_female_fit = [(36.2, 5.0, 4.1, 5.9), (40, 4.5, 3.9, 5.1), (45, 3.8, 3.4, 4.2), (50, 3.1, 2.9, 3.3),
                   (55, 2.5, 2.35, 2.65), (60, 2.05, 1.9, 2.2), (65, 1.7, 1.55, 1.85),
                   (70, 1.45, 1.25, 1.65), (75, 1.2, 0.95, 1.45), (80, 1.05, 0.7, 1.4),
                   (85, 0.95, 0.5, 1.4), (90, 0.85, 0.25, 1.5), (92.7, 0.8, 0.1, 1.7)]
cra5_male_fit = [(36.2, 7.3, 6.3, 8.3), (40, 5.8, 5.3, 6.3), (44, 4.7, 4.4, 5.0), (48, 3.8, 3.6, 4.0),
                 (52, 3.0, 2.8, 3.2), (56, 2.4, 2.2, 2.6), (60, 2.1, 1.9, 2.3), (64, 2.0, 1.75, 2.25),
                 (68, 2.0, 1.7, 2.3), (72, 2.15, 1.7, 2.6), (76, 2.6, 1.8, 3.4), (78.6, 3.0, 1.8, 4.1)]
cra6_female_fit = [(51.7, 5.6, 4.7, 6.7), (55, 4.8, 4.4, 5.2), (60, 4.0, 3.7, 4.3), (65, 3.2, 2.9, 3.5),
                   (70, 2.45, 2.15, 2.75), (75, 1.85, 1.55, 2.15), (80, 1.3, 0.95, 1.65),
                   (85, 0.75, 0.35, 1.15), (92.5, 0.05, -0.7, 0.9)]
cra6_male_fit = [(50.9, 6.8, None, None), (51.3, 7.0, None, None), (51.8, 6.6, None, None),
                 (52.3, 5.8, None, None), (52.8, 4.9, None, None), (53.4, 3.9, None, None)]
cra7_female_fit = [(37, 7.4, 6.5, 8.6), (40, 6.4, 5.8, 7.0), (44, 5.0, 4.6, 5.4), (48, 3.8, 3.4, 4.2),
                   (52, 2.7, 2.3, 3.1), (56, 1.8, 1.4, 2.2), (60, 1.1, 0.6, 1.6), (64, 0.6, 0.0, 1.3),
                   (68, 0.35, -0.5, 1.4), (72, 0.4, -0.7, 2.0), (75, 0.55, -0.8, 2.9),
                   (77.7, 0.8, -0.8, 3.9)]
cra7_male_fit = [(35.9, 5.0, None, None), (40, 4.9, None, None), (44, 4.5, None, None),
                 (48, 3.7, None, None), (52, 2.7, None, None), (56, 1.4, None, None),
                 (60, -0.2, None, None), (62, -1.1, None, None)]
cra8_female_fit = [(32.6, 6.85, 6.5, 7.2), (36, 6.2, 5.9, 6.5), (40, 5.5, 5.3, 5.7), (45, 4.6, 4.45, 4.75),
                   (50, 3.8, 3.7, 3.9), (55, 3.1, 3.0, 3.2), (60, 2.55, 2.45, 2.65), (65, 2.1, 2.0, 2.2),
                   (70, 1.7, 1.6, 1.8), (75, 1.3, 1.2, 1.4), (80, 1.0, 0.85, 1.15), (85, 0.7, 0.5, 0.9),
                   (90, 0.45, 0.2, 0.7), (92.8, 0.3, 0.0, 0.6)]
cra8_male_fit = [(38.1, 5.0, 4.3, 5.7), (40, 4.97, 4.6, 5.35), (44, 4.9, 4.75, 5.05), (48, 4.75, 4.65, 4.85),
                 (52, 4.6, 4.5, 4.7), (56, 4.4, 4.3, 4.5), (60, 4.0, 3.85, 4.15), (64, 3.35, 3.2, 3.5),
                 (68, 2.7, 2.5, 2.9), (72, 2.1, 1.9, 2.3), (76, 1.5, 1.2, 1.8), (80, 0.75, 0.35, 1.15),
                 (82.4, 0.1, -0.6, 0.8)]
cra9_female_fit = [(54.6, 3.7, 2.1, 5.65), (58, 3.1, 2.3, 4.0), (62, 2.5, 2.0, 3.0), (66, 2.0, 1.65, 2.35),
                   (70, 1.55, 1.2, 1.9), (74, 1.1, 0.8, 1.45), (78, 0.75, 0.4, 1.1), (82, 0.45, 0.0, 0.95),
                   (86, 0.15, -0.35, 1.1), (88.4, 0.0, -0.6, 1.65)]
cra9_male_fit = [(54.1, 7.95, 5.9, 10.2), (57, 7.65, 6.3, 9.4), (60, 7.2, 6.0, 8.7), (63, 6.6, 5.3, 8.0),
                 (66, 5.9, 4.1, 7.3), (69, 5.0, 2.9, 6.8), (72, 4.2, 1.6, 6.0), (74, 3.6, 0.9, 5.5),
                 (76.8, 3.0, 0.05, 5.8)]

points = {
    ('CRA1', 'Female'): cra1_female_pts, ('CRA1', 'Male'): cra1_male_pts,
    ('CRA2', 'Female'): cra2_female_pts, ('CRA2', 'Male'): cra2_male_pts,
    ('CRA3', 'Female'): cra3_female_pts, ('CRA3', 'Male'): cra3_male_pts,
    ('CRA4', 'Female'): cra4_female_pts, ('CRA4', 'Male'): cra4_male_pts,
    ('CRA5', 'Female'): cra5_female_pts, ('CRA5', 'Male'): cra5_male_pts,
    ('CRA6', 'Female'): cra6_female_pts, ('CRA6', 'Male'): cra6_male_pts,
    ('CRA7', 'Female'): cra7_female_pts, ('CRA7', 'Male'): cra7_male_pts,
    ('CRA8', 'Female'): cra8_female_pts, ('CRA8', 'Male'): cra8_male_pts,
    ('CRA9', 'Female'): cra9_female_pts, ('CRA9', 'Male'): cra9_male_pts,
}
fits = {
    ('CRA1', 'Female'): cra1_female_fit, ('CRA1', 'Male'): cra1_male_fit,
    ('CRA2', 'Female'): cra2_female_fit, ('CRA2', 'Male'): cra2_male_fit,
    ('CRA3', 'Female'): cra3_female_fit, ('CRA3', 'Male'): cra3_male_fit,
    ('CRA4', 'Female'): cra4_female_fit, ('CRA4', 'Male'): cra4_male_fit,
    ('CRA5', 'Female'): cra5_female_fit, ('CRA5', 'Male'): cra5_male_fit,
    ('CRA6', 'Female'): cra6_female_fit, ('CRA6', 'Male'): cra6_male_fit,
    ('CRA7', 'Female'): cra7_female_fit, ('CRA7', 'Male'): cra7_male_fit,
    ('CRA8', 'Female'): cra8_female_fit, ('CRA8', 'Male'): cra8_male_fit,
    ('CRA9', 'Female'): cra9_female_fit, ('CRA9', 'Male'): cra9_male_fit,
}

# ---- layout (pixels of a 1901 x 640 canvas) ----
W, H = 1901, 640
fig = plt.figure(figsize=(W / 100, H / 100), dpi=100)

panel_left, panel_right = 83, 1872
panel_gap = 13.25
panel_w = (panel_right - panel_left - 8 * panel_gap) / 9
row_top = [52, 321]
row_bottom = [306, 576]
strip_h = 41

border = '#333333'
grid_col = '#EBEBEB'
strip_fill = '#D9D9D9'


def px_box(x0, y0, x1, y1):
    return [x0 / W, 1 - y1 / H, (x1 - x0) / W, (y1 - y0) / H]


for r, sex in enumerate(sexes):
    for c, area in enumerate(areas):
        x0 = panel_left + c * (panel_w + panel_gap)
        ax = fig.add_axes(px_box(x0, row_top[r], x0 + panel_w, row_bottom[r]))
        col = area_colours[c]

        ax.set_xlim(32.5, 93.2)
        ax.set_ylim(-0.75, 15.8)
        ax.set_xticks(x_ticks)
        ax.set_yticks(y_ticks)
        ax.xaxis.set_minor_locator(MultipleLocator(5))
        ax.yaxis.set_minor_locator(MultipleLocator(2.5))
        ax.grid(True, which='major', color=grid_col, lw=1.5, zorder=0)
        ax.grid(True, which='minor', color=grid_col, lw=0.75, zorder=0)
        ax.set_axisbelow(True)
        for s in ax.spines.values():
            s.set_color(border)
            s.set_linewidth(1.3)

        pts = points[(area, sex)]
        ax.scatter([p[0] for p in pts], [p[1] for p in pts], s=48,
                   facecolor=matplotlib.colors.to_rgba(col, 0.3),
                   edgecolor=matplotlib.colors.to_rgba(col, 0.42), linewidth=0.8, zorder=2)

        fit = fits[(area, sex)]
        fx = [f[0] for f in fit]
        fy = [f[1] for f in fit]
        if fit[0][2] is not None:
            ax.fill_between(fx, [f[2] for f in fit], [f[3] for f in fit],
                            color=col, alpha=0.4, lw=0, zorder=3)
        ax.plot(fx, fy, color=col, lw=3, solid_capstyle='butt', zorder=4)

        ax.axvline(size_limit, color='black', lw=1.7, linestyle=(0, (4, 2.4)), zorder=5)

        ax.tick_params(which='minor', length=0)
        ax.tick_params(which='major', color=border, width=1.1, length=6,
                       labelsize=15, labelcolor='#4D4D4D', pad=3)
        if r == 0:
            ax.tick_params(axis='x', which='major', length=0, labelbottom=False)
        if c > 0:
            ax.tick_params(axis='y', which='major', length=0, labelleft=False)

        if r == 0:
            sax = fig.add_axes(px_box(x0, row_top[0] - strip_h, x0 + panel_w, row_top[0]))
            sax.set_facecolor(strip_fill)
            sax.set_xticks([])
            sax.set_yticks([])
            for s in sax.spines.values():
                s.set_color(border)
                s.set_linewidth(1.3)
            sax.text(0.5, 0.5, area, ha='center', va='center', fontsize=15,
                     color='#1A1A1A', transform=sax.transAxes)

    rax = fig.add_axes(px_box(panel_right, row_top[r], panel_right + strip_h, row_bottom[r]))
    rax.set_facecolor(strip_fill)
    rax.set_xticks([])
    rax.set_yticks([])
    for s in rax.spines.values():
        s.set_color(border)
        s.set_linewidth(1.3)
    fig.text(1888 / W, 1 - (row_top[r] + row_bottom[r]) / 2 / H, sex, ha='center', va='center',
             rotation=-90, fontsize=15, color='#1A1A1A')

fig.text((panel_left + panel_right) / 2 / W, 1 - 627 / H, 'Size at release (mm tail width)',
         ha='center', va='center', fontsize=18.5, color='black')
fig.text(27 / W, 1 - 314 / H, 'Annualised growth increment (mm tail width / year)',
         ha='center', va='center', rotation=90, fontsize=18.5, color='black')

fig.savefig('out.png', dpi=100)
